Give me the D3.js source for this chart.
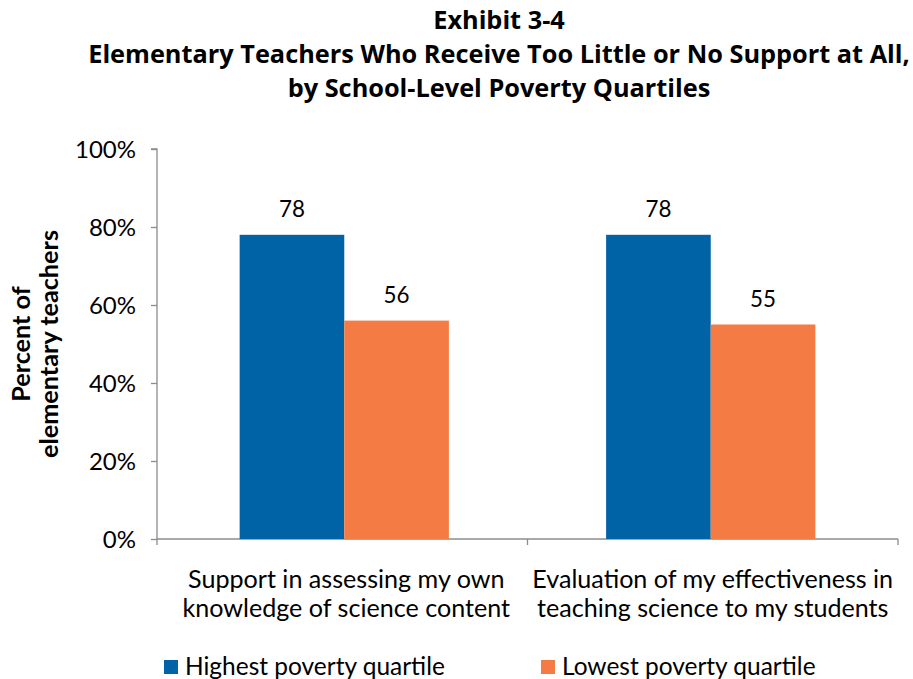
<!DOCTYPE html>
<html><head><meta charset="utf-8">
<script src="https://cdn.jsdelivr.net/npm/d3@7"></script>
<style>body{margin:0;background:#fff}svg{display:block}</style>
</head><body>
<svg id="c" width="913" height="679"></svg>
<script>
const titleLines = ["Exhibit 3-4", "Elementary Teachers Who Receive Too Little or No Support at All,", "by School-Level Poverty Quartiles"];
const categories = [
  ["Support in assessing my own", "knowledge of science content"],
  ["Evaluation of my effectiveness in", "teaching science to my students"]
];
const seriesNames = ["Highest poverty quartile", "Lowest poverty quartile"];
const highest = [78, 78];
const lowest = [56, 55];
const yTicks = [0, 20, 40, 60, 80, 100];
const colors = ["#0063A6", "#F47B43"];

(function () {
const svg = d3.select("#c");
const font = "Lato, 'Open Sans', sans-serif";
const tfont = "'Open Sans', Lato, sans-serif";
const pl = 157, pr = 898, pt = 149, pb = 539;

// size a text selection so that its length matches the target width
function fit(sel, target) {
  const base = +sel.attr("font-size");
  const w = sel.node().getComputedTextLength();
  sel.attr("font-size", (base * target / w).toFixed(2));
}

const x0 = d3.scaleBand().domain([0, 1]).range([pl, pr]).paddingInner(0.429).paddingOuter(0.2255);
const x1 = d3.scaleBand().domain([0, 1]).range([0, x0.bandwidth()]);
const y = d3.scaleLinear().domain([0, 100]).range([pb, pt]);

// title
const tY = [29, 63, 97];
const titleTexts = titleLines.map((t, i) => svg.append("text").attr("x", 499).attr("y", tY[i]).attr("text-anchor", "middle")
    .attr("font-family", tfont).attr("font-weight", "bold").attr("font-size", 22).attr("fill", "#000").text(t));
fit(titleTexts[1], 822);
titleTexts.forEach(s => s.attr("font-size", titleTexts[1].attr("font-size")));

// y axis
const yAxis = d3.axisLeft(y).tickValues(yTicks).tickFormat(d => d + "%").tickSize(6).tickPadding(15);
const gy = svg.append("g").attr("transform", `translate(${pl},0)`).call(yAxis);
gy.select(".domain").attr("stroke", "#8c8c8c").attr("stroke-width", 1.3).attr("d", `M-6,${pt}H0V${pb}`);
gy.selectAll(".tick line").attr("stroke", "#8c8c8c").attr("stroke-width", 1.3);
const tickTexts = gy.selectAll(".tick text").attr("font-family", font).attr("font-size", 20).attr("fill", "#000");
const topTick = tickTexts.filter(d => d === 100);
const w100 = topTick.node().getComputedTextLength();
tickTexts.attr("font-size", (20 * 61 / w100).toFixed(2)).attr("dy", "0.34em");

// x axis
const xBounds = [pl, (pl + pr) / 2, pr];
svg.append("line").attr("x1", pl).attr("x2", pr).attr("y1", pb).attr("y2", pb)
  .attr("stroke", "#8c8c8c").attr("stroke-width", 1.3);
svg.selectAll(".xt").data(xBounds).enter().append("line")
  .attr("x1", d => d).attr("x2", d => d).attr("y1", pb).attr("y2", pb + 6)
  .attr("stroke", "#8c8c8c").attr("stroke-width", 1.3);

// bars
const data = categories.map((c, i) => [highest[i], lowest[i]]);
const groups = svg.selectAll(".grp").data(data).enter().append("g")
  .attr("transform", (d, i) => `translate(${x0(i)},0)`);
groups.selectAll("rect").data(d => d).enter().append("rect")
  .attr("x", (d, j) => x1(j)).attr("width", x1.bandwidth())
  .attr("y", d => y(d)).attr("height", d => pb - y(d))
  .attr("fill", (d, j) => colors[j]);
const vals = groups.selectAll("text.v").data(d => d).enter().append("text")
  .attr("x", (d, j) => x1(j) + x1.bandwidth() / 2).attr("y", d => y(d) - 18)
  .attr("text-anchor", "middle").attr("font-family", font).attr("font-size", 21).attr("fill", "#000")
  .text(d => d);
const vw = vals.node().getComputedTextLength();
vals.attr("font-size", (21 * 26 / vw).toFixed(2));

// category labels
const catTexts = [];
categories.forEach((lines, i) => {
  const cx = x0(i) + x0.bandwidth() / 2 + 2;
  lines.forEach((l, k) => {
    catTexts.push(svg.append("text").attr("x", cx).attr("y", 588 + k * 29).attr("text-anchor", "middle")
      .attr("font-family", font).attr("font-size", 21).attr("fill", "#000").text(l));
  });
});
const cw = catTexts[0].node().getComputedTextLength() + catTexts[1].node().getComputedTextLength();
const csize = (21 * (317 + 327) / cw).toFixed(2);
catTexts.forEach(s => s.attr("font-size", csize));

// y axis title
const yt = svg.append("g").attr("transform", "translate(0,344) rotate(-90)");
const yt1 = yt.append("text").attr("x", 0).attr("y", 30).attr("text-anchor", "middle")
  .attr("font-family", font).attr("font-weight", "bold").attr("font-size", 19).attr("fill", "#000").text("Percent of");
const yt2 = yt.append("text").attr("x", 0).attr("y", 58).attr("text-anchor", "middle")
  .attr("font-family", font).attr("font-weight", "bold").attr("font-size", 19).attr("fill", "#000").text("elementary teachers");
fit(yt2, 228);
yt1.attr("font-size", yt2.attr("font-size"));

// legend
const legX = [164, 541];
const legTexts = [];
seriesNames.forEach((s, i) => {
  svg.append("rect").attr("x", legX[i]).attr("y", 660).attr("width", 14).attr("height", 14).attr("fill", colors[i]);
  legTexts.push(svg.append("text").attr("x", legX[i] + 21).attr("y", 675).attr("font-family", font)
    .attr("font-size", 21).attr("fill", "#000").text(s));
});
fit(legTexts[0], 260);
legTexts[1].attr("font-size", legTexts[0].attr("font-size"));
})();
</script>
</body></html>
